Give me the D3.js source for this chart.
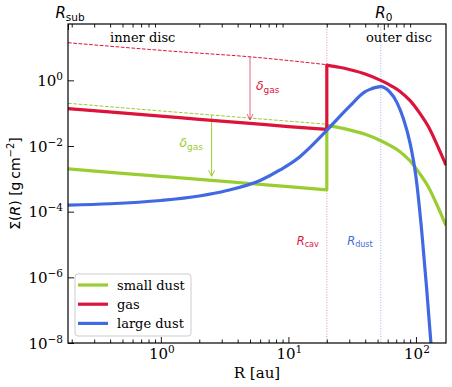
<!DOCTYPE html>
<html>
<head>
<meta charset="utf-8">
<script src="https://cdn.jsdelivr.net/npm/d3@7"></script>
<style>
  body { margin: 0; background: #fff; }
</style>
</head>
<body>
<div id="chart"></div>
<script>
// radius in au, surface density in g cm^-2
var Rsub = 0.187, Rmax = 172, Rcav = 20, Rdust = 53, R0 = 56;

var gasInnerR = [0.187, 1, 2, 5, 10, 20];
var gasInner  = [0.138, 0.081, 0.065, 0.049, 0.039, 0.032];
var gasOuterR = [20, 25, 30, 40, 53, 65, 75, 90, 107, 125, 140, 155, 166, 172];
var gasOuter  = [2.92, 2.5, 2.14, 1.57, 1.0, 0.66, 0.46, 0.24, 0.10, 0.039, 0.016, 6.6e-3, 3.6e-3, 2.6e-3];
var gasFullR  = [0.187, 1.41, 5, 20];
var gasFull   = [14, 7.4, 5.2, 3.0];

var smallInnerR = [0.187, 1, 2, 5, 10, 20];
var smallInner  = [2.0e-3, 1.19e-3, 9.6e-4, 7.2e-4, 5.8e-4, 4.6e-4];
var smallOuterR = [20, 25, 30, 40, 53, 65, 75, 90, 107, 125, 140, 155, 166, 172];
var smallOuter  = [0.0423, 0.0363, 0.031, 0.0228, 0.0145, 0.0096, 0.0067, 0.0035, 1.45e-3, 5.7e-4, 2.3e-4, 9.6e-5, 5.2e-5, 3.8e-5];
var smallFullR  = [0.187, 1, 2.5, 20];
var smallFull   = [0.2, 0.117, 0.088, 0.046];

var largeR = [0.187, 0.4, 1, 2, 3.3, 6, 8.6, 12.3, 14.7, 20, 30, 40, 43.6, 53, 62, 71, 80, 90, 100, 111, 121, 131];
var large  = [1.58e-4, 1.74e-4, 2.19e-4, 3.0e-4, 4.4e-4, 8.9e-4, 1.86e-3, 4.7e-3, 8.9e-3, 0.030, 0.158, 0.45, 0.53, 0.64, 0.45, 0.21, 0.065, 0.012, 1.15e-3, 2.5e-5, 5.1e-7, 1e-8];

var yTicks = [1e-8, 1e-6, 1e-4, 1e-2, 1];
var yTickExp = ["\u22128", "\u22126", "\u22124", "\u22122", "0"];
var xTicks = [1, 10, 100];
var xTickExp = ["0", "1", "2"];

// arrows: [R, from, to]
var gasArrow = [5, 5.2, 0.062];
var smallArrow = [2.5, 0.09, 1.2e-3];

var green = "yellowgreen", red = "crimson", blue = "royalblue";
var SERIF = "'DejaVu Serif', serif";
var SANS = "'DejaVu Sans', sans-serif";

var svgWidth = 452, svgHeight = 387;
var margin = { top: 24, right: 6, bottom: 44, left: 68 };
var width = svgWidth - margin.left - margin.right;
var height = svgHeight - margin.top - margin.bottom;

var svg = d3.select("#chart").append("svg")
  .attr("width", svgWidth)
  .attr("height", svgHeight);

var chartGroup = svg.append("g")
  .attr("transform", `translate(${margin.left}, ${margin.top})`);

var x = d3.scaleLog().domain([Rsub, Rmax]).range([0, width]);
var y = d3.scaleLog().domain([1e-8, 52]).range([height, 0]);

svg.append("defs").append("clipPath").attr("id", "clip")
  .append("rect").attr("width", width).attr("height", height);

var plot = chartGroup.append("g").attr("clip-path", "url(#clip)");

var line = d3.line()
  .x(d => x(d[0]))
  .y(d => y(d[1]))
  .curve(d3.curveMonotoneX);

// vertical markers
plot.append("line")
  .attr("x1", x(Rcav)).attr("x2", x(Rcav)).attr("y1", 0).attr("y2", height)
  .attr("stroke", red).attr("stroke-opacity", 0.5).attr("stroke-width", 1)
  .attr("stroke-dasharray", "1,1.6");
plot.append("line")
  .attr("x1", x(Rdust)).attr("x2", x(Rdust)).attr("y1", 0).attr("y2", height)
  .attr("stroke", blue).attr("stroke-opacity", 0.5).attr("stroke-width", 1)
  .attr("stroke-dasharray", "1,1.6");

// undepleted profiles
plot.append("path")
  .attr("d", line(d3.zip(gasFullR, gasFull)))
  .attr("fill", "none").attr("stroke", red).attr("stroke-width", 1)
  .attr("stroke-dasharray", "3.7,1.6");
plot.append("path")
  .attr("d", line(d3.zip(smallFullR, smallFull)))
  .attr("fill", "none").attr("stroke", green).attr("stroke-width", 1)
  .attr("stroke-dasharray", "3.7,1.6");

// depletion arrows
function arrow(a, color, op) {
  var ax = x(a[0]), y1 = y(a[1]), y2 = y(a[2]);
  var g = plot.append("g").attr("stroke", color).attr("stroke-opacity", op)
    .attr("fill", "none").attr("stroke-width", 1);
  g.append("line").attr("x1", ax).attr("x2", ax).attr("y1", y1).attr("y2", y2);
  g.append("path").attr("d", `M${ax - 3},${y2 - 6}L${ax},${y2}L${ax + 3},${y2 - 6}`);
}
arrow(gasArrow, red, 0.65);
arrow(smallArrow, green, 1);

// profiles
var profiles = [
  { name: "small dust", color: green, d: line(d3.zip(smallInnerR, smallInner)) + line(d3.zip(smallOuterR, smallOuter)).replace("M", "L") },
  { name: "gas", color: red, d: line(d3.zip(gasInnerR, gasInner)) + line(d3.zip(gasOuterR, gasOuter)).replace("M", "L") },
  { name: "large dust", color: blue, d: line(d3.zip(largeR, large)) }
];

plot.selectAll(".profile").data(profiles).enter()
  .append("path")
  .attr("class", "profile")
  .attr("d", d => d.d)
  .attr("fill", "none")
  .attr("stroke", d => d.color)
  .attr("stroke-width", 3.2)
  .attr("stroke-linejoin", "round");

// axes (ticks pointing in)
var minorX = x.ticks().filter(v => xTicks.indexOf(v) < 0 && Math.abs(Math.log10(v) % 1) > 1e-6);

var bottomAxis = chartGroup.append("g").attr("transform", `translate(0, ${height})`);
bottomAxis.call(d3.axisBottom(x).tickValues(xTicks).tickSize(-6).tickFormat(""));
bottomAxis.append("g").call(d3.axisBottom(x).tickValues(minorX).tickSize(-3.5).tickFormat(""));

var topAxis = chartGroup.append("g");
topAxis.call(d3.axisTop(x).tickValues(minorX).tickSize(-3.5).tickFormat(""));
topAxis.append("g").call(d3.axisTop(x).tickValues([Rsub, R0]).tickSize(-6).tickFormat(""));

var leftAxis = chartGroup.append("g");
leftAxis.call(d3.axisLeft(y).tickValues(yTicks).tickSize(-6).tickFormat(""));

chartGroup.selectAll(".domain").remove();
chartGroup.selectAll(".tick line").attr("stroke", "#000").attr("stroke-width", 0.9);

chartGroup.append("rect")
  .attr("width", width).attr("height", height)
  .attr("fill", "none").attr("stroke", "#000").attr("stroke-width", 1.2);

// tick labels
xTicks.forEach(function (v, i) {
  var t = chartGroup.append("text")
    .attr("x", x(v) + 1).attr("y", height + 16)
    .attr("text-anchor", "middle")
    .style("font-family", SERIF).style("font-size", "15px");
  t.append("tspan").text("10");
  t.append("tspan").attr("dy", -6).style("font-size", "10.5px").text(xTickExp[i]);
});

yTicks.forEach(function (v, i) {
  var t = chartGroup.append("text")
    .attr("x", -5).attr("y", y(v) + 5.5)
    .attr("text-anchor", "end")
    .style("font-family", SERIF).style("font-size", "15px");
  t.append("tspan").text("10");
  t.append("tspan").attr("dy", -6).style("font-size", "10.5px").text(yTickExp[i]);
});

// top tick labels
function subLabel(g, px, py, main, sub, size, color, anchor) {
  var t = g.append("text")
    .attr("x", px).attr("y", py).attr("text-anchor", anchor)
    .style("font-family", SANS)
    .style("font-size", size + "px").style("fill", color);
  t.append("tspan").style("font-style", "italic").text(main);
  t.append("tspan").attr("dy", size * 0.2).style("font-size", (size * 0.7) + "px").text(sub);
  return t;
}
subLabel(chartGroup, x(Rsub) + 2, -6, "R", "sub", 15, "#000", "middle");
subLabel(chartGroup, x(R0), -6, "R", "0", 15, "#000", "middle");

// annotations
chartGroup.append("text")
  .attr("x", x(0.72)).attr("y", y(15)).attr("text-anchor", "middle")
  .style("font-family", SERIF).style("font-size", "13px").text("inner disc");
chartGroup.append("text")
  .attr("x", x(73.6)).attr("y", y(15)).attr("text-anchor", "middle")
  .style("font-family", SERIF).style("font-size", "13px").text("outer disc");

subLabel(chartGroup, x(17.3), y(1e-5), "R", "cav", 11.5, red, "end");
subLabel(chartGroup, x(45.8), y(1e-5), "R", "dust", 11.5, blue, "end");

function deltaLabel(px, py, color, anchor) {
  var t = chartGroup.append("text")
    .attr("x", px).attr("y", py).attr("text-anchor", anchor)
    .style("font-family", SANS)
    .style("font-size", "12.5px").style("fill", color);
  t.append("tspan").style("font-style", "italic").text("\u03b4");
  t.append("tspan").attr("dy", 3).style("font-size", "9px").text("gas");
}
deltaLabel(x(5.56), y(0.51), red, "start");
deltaLabel(x(2.14), y(9.3e-3), green, "end");

// axis titles
svg.append("text")
  .attr("x", margin.left + width / 2).attr("y", 378)
  .attr("text-anchor", "middle")
  .style("font-family", SERIF).style("font-size", "15px")
  .text("R [au]");

var yl = svg.append("text")
  .attr("transform", `translate(20, ${margin.top + height / 2}) rotate(-90)`)
  .attr("text-anchor", "middle")
  .style("font-family", SANS).style("font-size", "14px");
yl.append("tspan").text("\u03a3(");
yl.append("tspan").style("font-style", "italic").text("R");
yl.append("tspan").text(") [g\u2009cm");
yl.append("tspan").attr("dy", -6).style("font-size", "10px").text("\u22122");
yl.append("tspan").attr("dy", 6).text("]");

// legend
var legend = chartGroup.append("g").attr("transform", "translate(7, 250)");
legend.append("rect")
  .attr("width", 116).attr("height", 62).attr("rx", 3)
  .attr("fill", "#fff").attr("fill-opacity", 0.8)
  .attr("stroke", "#ccc").attr("stroke-width", 1);
var items = legend.selectAll(".item").data(profiles).enter()
  .append("g").attr("transform", (d, i) => `translate(0, ${11 + i * 19.2})`);
items.append("line")
  .attr("x1", 3).attr("x2", 33)
  .attr("stroke", d => d.color).attr("stroke-width", 3.2);
items.append("text")
  .attr("x", 42).attr("y", 4.5)
  .style("font-family", SERIF).style("font-size", "13px")
  .text(d => d.name);
</script>
</body>
</html>
